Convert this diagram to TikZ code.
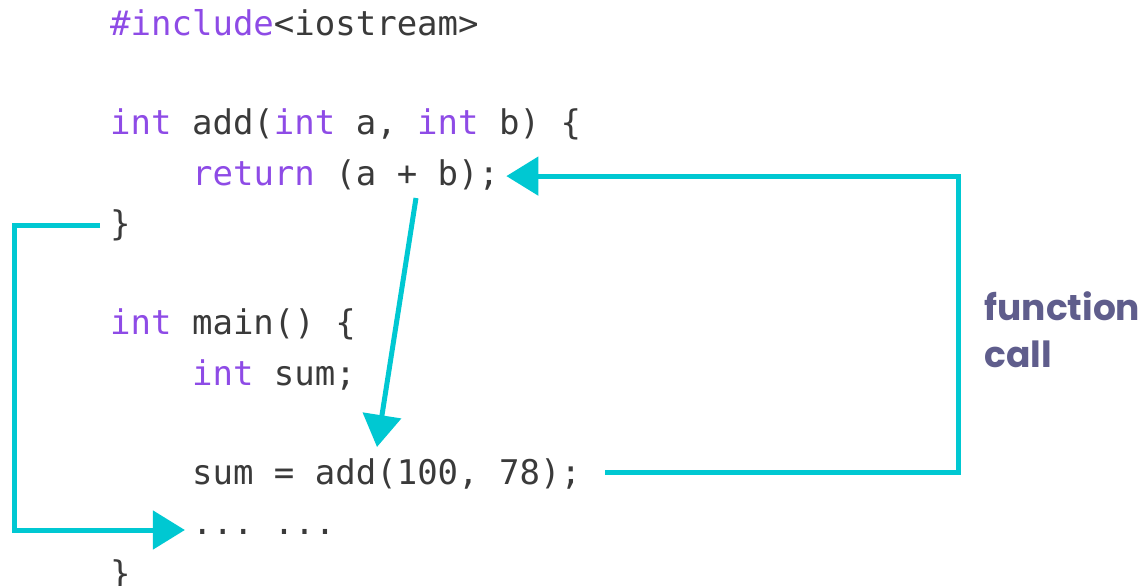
\documentclass[tikz,border=0pt]{standalone}
\usepackage{fontspec}
\setmonofont{DejaVu Sans Mono}
\newfontfamily\labelfont{Poppins}
\usepackage{xcolor}
\usetikzlibrary{arrows.meta, positioning}

\definecolor{kwpurple}{HTML}{8E4BE6}
\definecolor{codegray}{HTML}{3A3A3A}
\definecolor{flowcyan}{HTML}{00C8D2}
\definecolor{labelslate}{HTML}{5F5D8C}
\newcommand{\kw}[1]{\textcolor{kwpurple}{#1}}

\begin{document}
\begin{tikzpicture}[x=1pt, y=1pt,
  codeline/.style={inner sep=0pt, text=codegray, text height=28.9pt, text depth=5.1pt, font=\ttfamily\fontsize{34}{49.7}\selectfont},
  flow/.style={draw=flowcyan, line width=5pt, line join=miter, -{Triangle[length=32pt, width=38pt]}}]
\useasboundingbox (0,0) rectangle (1146,-586);

% code lines, one below the other
\node[codeline, anchor=north west] (inc) at (110,-6) {\kw{\#include}<iostream>};
\node[codeline, below right=65.4pt and 0pt of inc.south west] (addhead) {\kw{int} add(\kw{int} a, \kw{int} b) \{};
\node[codeline, below right=15.7pt and 81.9pt of addhead.south west] (ret) {\kw{return} (a + b);};
\node[codeline, below right=15.7pt and -81.9pt of ret.south west] (closeadd) {\}};
\node[codeline, below right=65.4pt and 0pt of closeadd.south west] (mainhead) {\kw{int} main() \{};
\node[codeline, below right=15.7pt and 81.9pt of mainhead.south west] (decl) {\kw{int} sum;};
\node[codeline, below right=65.4pt and 0pt of decl.south west] (call) {sum = add(100, 78);};
\node[codeline, below right=15.7pt and 0pt of call.south west] (dots) {... ...};
\node[codeline, below right=15.7pt and -81.9pt of dots.south west] (closemain) {\}};

% label of the call
\node[anchor=base west, align=left, text=labelslate, font=\labelfont\bfseries\fontsize{36}{47}\selectfont] (calllabel) at (981,-367) {function\\call};

% call jumps up into add
\coordinate (rrail) at (958,-320);
\draw[flow] ([xshift=24pt]call.east) -| (rrail) |- ([xshift=7pt, yshift=-3pt]ret.east);

% back to main after the closing brace
\coordinate (lrail) at (14,-380);
\draw[flow] ([xshift=-10pt, yshift=-2pt]closeadd.west) -| (lrail) |- ([xshift=-7pt, yshift=-7pt]dots.west);

% returned value goes to the call
\coordinate (sumout) at (416,-198);
\coordinate (sumin) at (377,-447);
\draw[flow] (sumout) -- (sumin);

\end{tikzpicture}
\end{document}
